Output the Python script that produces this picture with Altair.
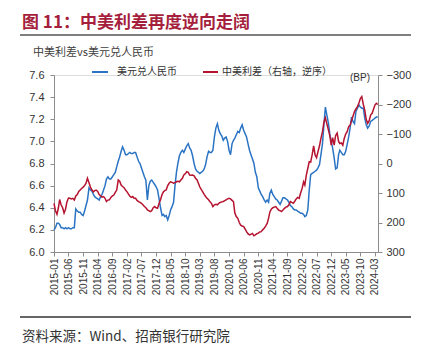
import altair as alt
import pandas as pd

# ---------------- data (semi-monthly readings: 1st and 16th of each month) ----------------
usdcny = [
    # 2015
    6.20, 6.22, 6.26, 6.26, 6.25, 6.22, 6.22, 6.21, 6.22, 6.21, 6.22, 6.21,
    6.21, 6.22, 6.22, 6.39, 6.37, 6.36, 6.36, 6.34, 6.33, 6.37, 6.42, 6.47,
    # 2016
    6.58, 6.56, 6.55, 6.52, 6.50, 6.49, 6.48, 6.47, 6.50, 6.52, 6.56, 6.60,
    6.66, 6.68, 6.66, 6.66, 6.68, 6.70, 6.72, 6.77, 6.82, 6.86, 6.91, 6.95,
    # 2017
    6.92, 6.88, 6.88, 6.89, 6.90, 6.89, 6.89, 6.90, 6.90, 6.86, 6.82, 6.80,
    6.76, 6.72, 6.68, 6.65, 6.47, 6.60, 6.64, 6.65, 6.63, 6.61, 6.59, 6.56,
    # 2018
    6.48, 6.40, 6.33, 6.34, 6.32, 6.33, 6.29, 6.33, 6.38, 6.41, 6.45, 6.60,
    6.72, 6.80, 6.87, 6.90, 6.92, 6.90, 6.93, 6.96, 6.98, 6.94, 6.92, 6.87,
    # 2019
    6.80, 6.75, 6.73, 6.72, 6.71, 6.72, 6.73, 6.75, 6.79, 6.86, 6.91, 6.90,
    6.90, 6.92, 7.04, 7.12, 7.16, 7.10, 7.07, 7.05, 7.01, 7.03, 7.04, 7.00,
    # 2020
    6.92, 6.88, 6.98, 7.01, 7.03, 7.06, 7.09, 7.08, 7.12, 7.15, 7.10, 7.07,
    7.04, 6.98, 6.92, 6.88, 6.84, 6.80, 6.72, 6.68, 6.58, 6.55, 6.52, 6.50,
    # 2021
    6.47, 6.45, 6.47, 6.45, 6.53, 6.56, 6.52, 6.50, 6.48, 6.47, 6.45, 6.43,
    6.46, 6.49, 6.49, 6.48, 6.47, 6.45, 6.42, 6.41, 6.39, 6.38, 6.38, 6.37,
    # 2022
    6.36, 6.35, 6.35, 6.34, 6.32, 6.33, 6.38, 6.56, 6.70, 6.71, 6.72, 6.73,
    6.74, 6.76, 6.79, 6.88, 6.98, 7.15, 7.31, 7.24, 7.17, 7.07, 7.00, 6.94,
    # 2023
    6.85, 6.75, 6.76, 6.88, 6.92, 6.90, 6.88, 6.88, 6.91, 6.97, 7.04, 7.12,
    7.22, 7.18, 7.16, 7.27, 7.30, 7.33, 7.31, 7.30, 7.30, 7.21, 7.15, 7.12,
    # 2024 (Jan - Mar, plus end of March)
    7.14, 7.18, 7.19, 7.20, 7.21, 7.22, 7.22,
]

spread_bp = [
    # 2015
    135, 160, 172, 150, 122, 140, 150, 168, 155, 130, 117, 118,
    120, 118, 124, 110, 105, 95, 90, 85, 80, 75, 67, 50,
    # 2016
    65, 80, 90, 96, 92, 90, 95, 105, 110, 114, 112, 118,
    129, 124, 123, 115, 110, 107, 98, 90, 56, 60, 73, 78,
    # 2017
    82, 90, 96, 104, 110, 115, 112, 118, 118, 125, 129, 132,
    135, 140, 146, 150, 157, 160, 163, 160, 150, 146, 150, 152,
    # 2018
    135, 123, 105, 96, 92, 90, 75, 67, 62, 64, 67, 65,
    62, 60, 62, 56, 50, 39, 35, 28, 30, 39, 40, 39,
    # 2019
    42, 50, 56, 68, 79, 88, 96, 105, 112, 118, 123, 130,
    135, 146, 140, 138, 140, 135, 132, 130, 129, 126, 123, 120,
    # 2020
    118, 120, 125, 130, 168, 180, 186, 200, 209, 212, 214, 222,
    231, 238, 242, 240, 237, 245, 242, 238, 236, 232, 231, 225,
    # 2021
    220, 212, 203, 185, 165, 155, 150, 148, 146, 152, 158, 160,
    163, 158, 152, 148, 146, 140, 129, 132, 135, 128, 120, 115,
    # 2022
    118, 100, 84, 62, 73, 40, 16, -6, -5, -29, -60, -29,
    -20, -40, -60, -85, -108, -140, -155, -135, -115, -95, -62, -88,
    # 2023
    -62, -95, -103, -75, -68, -70, -62, -85, -100, -108, -125, -130,
    -145, -160, -176, -185, -193, -205, -220, -227, -200, -181, -150, -136,
    # 2024
    -145, -164, -170, -185, -198, -204, -200,
]

dates = []
for yr in range(2015, 2025):
    for mo in range(1, 13):
        if yr == 2024 and mo > 3:
            break
        dates.append(f"{yr}/{mo:02d}/01")
        dates.append(f"{yr}/{mo:02d}/16")
dates.append("2024/03/31")

left_ticks = [6.0, 6.2, 6.4, 6.6, 6.8, 7.0, 7.2, 7.4, 7.6]
right_ticks = [-300, -200, -100, 0, 100, 200, 300]
tick_months = [
    (2015, 1), (2015, 6), (2015, 11), (2016, 4), (2016, 9), (2017, 2), (2017, 7),
    (2017, 12), (2018, 5), (2018, 10), (2019, 3), (2019, 8), (2020, 1), (2020, 6),
    (2020, 11), (2021, 4), (2021, 9), (2022, 2), (2022, 7), (2022, 12), (2023, 5),
    (2023, 10), (2024, 3),
]

title_text = "图 11：中美利差再度逆向走阔"
subtitle_text = "中美利差vs美元兑人民币"
legend_usd = "美元兑人民币"
legend_spread = "中美利差（右轴，逆序）"
unit_text = "(BP)"
source_text = "资料来源：Wind、招商银行研究院"

df = pd.DataFrame({"date": dates, "usdcny": usdcny, "spread": spread_bp})

BLUE = "#2b74c4"
RED = "#b5132f"
AX = "#8c8c8c"
FONT = "Liberation Sans"
CJK = "Noto Sans CJK SC"

x_enc = alt.X(
    "date:T",
    scale=alt.Scale(domain=[alt.DateTime(year=2015, month=1, date=1),
                            alt.DateTime(year=2024, month=4, date=2)]),
    axis=alt.Axis(
        values=[alt.DateTime(year=y, month=m, date=1) for y, m in tick_months],
        format="%Y-%m", labelAngle=270, labelFontSize=10, labelFont=FONT,
        labelColor="#333333", domainColor=AX, tickColor=AX, tickSize=4,
        labelPadding=2, grid=False, title=None, labelOverlap=False,
    ),
)

blue = alt.Chart(df).mark_line(color=BLUE, strokeWidth=1.5).encode(
    x=x_enc,
    y=alt.Y("usdcny:Q", scale=alt.Scale(domain=[6.0, 7.6], nice=False, zero=False),
            axis=alt.Axis(orient="left", values=left_ticks, format=".1f", grid=False,
                          title=None, labelFontSize=11, labelFont=FONT,
                          labelColor="#333333", domainColor=AX, tickColor=AX,
                          tickSize=4, labelPadding=6)),
)

red = alt.Chart(df).mark_line(color=RED, strokeWidth=1.5).encode(
    x=x_enc,
    y=alt.Y("spread:Q", scale=alt.Scale(domain=[-300, 300], reverse=True, nice=False),
            axis=alt.Axis(orient="right", values=right_ticks, format="d", grid=False,
                          title=None, labelFontSize=11, labelFont=FONT,
                          labelColor="#333333", domainColor=AX, tickColor=AX,
                          tickSize=4, labelPadding=4)),
)


def txt(s, x, y, size, color, font=CJK, weight="normal", align="left"):
    return alt.Chart(pd.DataFrame({"t": [s]})).mark_text(
        align=align, baseline="middle", fontSize=size, font=font,
        fontWeight=weight, color=color,
    ).encode(text="t:N", x=alt.value(x), y=alt.value(y))


def hline(x1, x2, y, color, width, name):
    return alt.Chart(pd.DataFrame({"n": [name]})).mark_rule(
        color=color, strokeWidth=width
    ).encode(x=alt.value(x1), x2=alt.value(x2), y=alt.value(y))


title = txt(title_text, -32, -52, 17, "#a51f3d", weight="bold")
rule_top = hline(-34, 357, -40, "#555555", 1.5, "top")
subtitle = txt(subtitle_text, -21, -22, 11, "#404040")
leg_blue_line = hline(38, 54, -3, BLUE, 2, "lb")
leg_blue_txt = txt(legend_usd, 63, -3, 10, "#333333")
leg_red_line = hline(149, 164, -3, RED, 2, "lr")
leg_red_txt = txt(legend_spread, 168, -3, 10, "#333333")
unit = txt(unit_text, 316, 3, 10, "#333333", font=FONT, align="right")
rule_bottom = hline(-34, 357, 242, "#333333", 1.5, "bottom")
source = txt(source_text, -32, 262, 13.5, "#333333")

lines = alt.layer(blue, red).resolve_scale(y="independent")

chart = alt.layer(
    lines, title, rule_top, subtitle, leg_blue_line, leg_blue_txt,
    leg_red_line, leg_red_txt, unit, rule_bottom, source,
).properties(
    width=324, height=177,
    autosize=alt.AutoSizeParams(type="none"),
    padding={"left": 46, "top": 67, "right": 38, "bottom": 95},
).configure_view(stroke=None).configure(background="white")

chart.save("out.html", embed_options={"renderer": "svg", "actions": False})
